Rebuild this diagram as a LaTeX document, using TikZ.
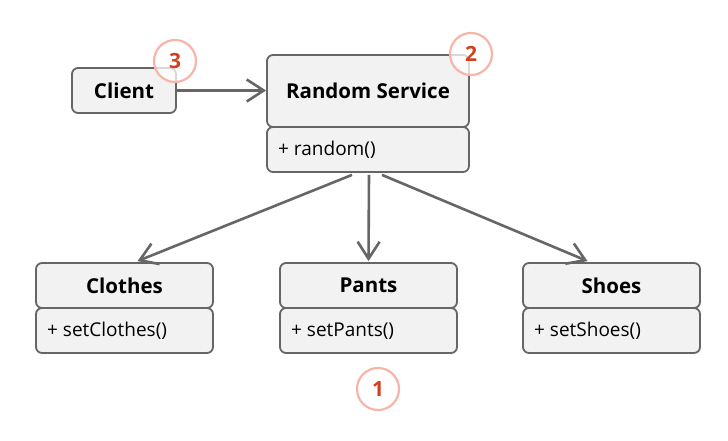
\documentclass[tikz,border=0pt]{standalone}
\usepackage{fontspec}
\setmainfont{Open Sans}
\usetikzlibrary{arrows.meta,calc}
\definecolor{boxfill}{HTML}{F2F2F2}
\definecolor{boxline}{HTML}{666666}
\definecolor{badgeline}{HTML}{F8B4A6}
\definecolor{badgetext}{HTML}{D2411F}
\tikzset{
  box/.style={draw=boxline,fill=boxfill,line width=1.8pt,rounded corners=6pt,inner sep=0pt},
  title/.style={box,font=\fontsize{20.5}{22}\selectfont\bfseries},
  memtext/.style={anchor=west,inner sep=0pt,font=\fontsize{19}{21}\selectfont},
  badge/.style={circle,draw=badgeline,line width=2.2pt,fill=white,fill opacity=0.75,text opacity=1,minimum size=42pt,inner sep=0pt,text=badgetext,font=\fontsize{21}{22}\selectfont\bfseries},
  conn/.style={draw=boxline,line width=2.6pt,-{Straight Barb[length=17pt,width=22pt,line width=2.6pt]}}
}
\begin{document}
\begin{tikzpicture}[x=1pt,y=-1pt]
\useasboundingbox (0,0) rectangle (728,440);
% Client
\node[title,minimum width=104pt,minimum height=45pt] (client) at (124,90.5) {Client};
% Random Service
\node[title,minimum width=202pt,minimum height=72pt] (rsh) at (368,91) {Random Service};
\node[box,minimum width=202pt,minimum height=45pt] (rsb) at (368,149.5) {};
\node[memtext] (rst) at (278,150) {+ random()};
% Clothes
\node[title,minimum width=177pt,minimum height=45pt] (clh) at (124.5,285.5) {Clothes};
\node[box,minimum width=177pt,minimum height=45pt] (clb) at (124.5,330.5) {};
\node[memtext] (clt) at (47,331) {+ setClothes()};
% Pants
\node[title,minimum width=177pt,minimum height=45pt] (pah) at (368.5,285.5) {Pants};
\node[box,minimum width=177pt,minimum height=45pt] (pab) at (368.5,330.5) {};
\node[memtext] (pat) at (291,331) {+ setPants()};
% Shoes
\node[title,minimum width=177pt,minimum height=45pt] (shh) at (611.5,285.5) {Shoes};
\node[box,minimum width=177pt,minimum height=45pt] (shb) at (611.5,330.5) {};
\node[memtext] (sht) at (534,331) {+ setShoes()};
% connectors
\draw[conn] (client.east) -- (rsh.west |- client.east);
\draw[conn] ($(rsb.south)+(-16,2)$) -- ($(clh.north)+(13,-1)$);
\draw[conn] ($(rsb.south)+(1,2)$) -- ($(pah.north)+(0,-1)$);
\draw[conn] ($(rsb.south)+(14,2)$) -- ($(shh.north)+(-24,-1)$);
% badges
\node[badge] (b3) at (175,61) {3};
\node[badge] (b2) at (471,54) {2};
\node[badge] (b1) at (378,389) {1};
\end{tikzpicture}
\end{document}
